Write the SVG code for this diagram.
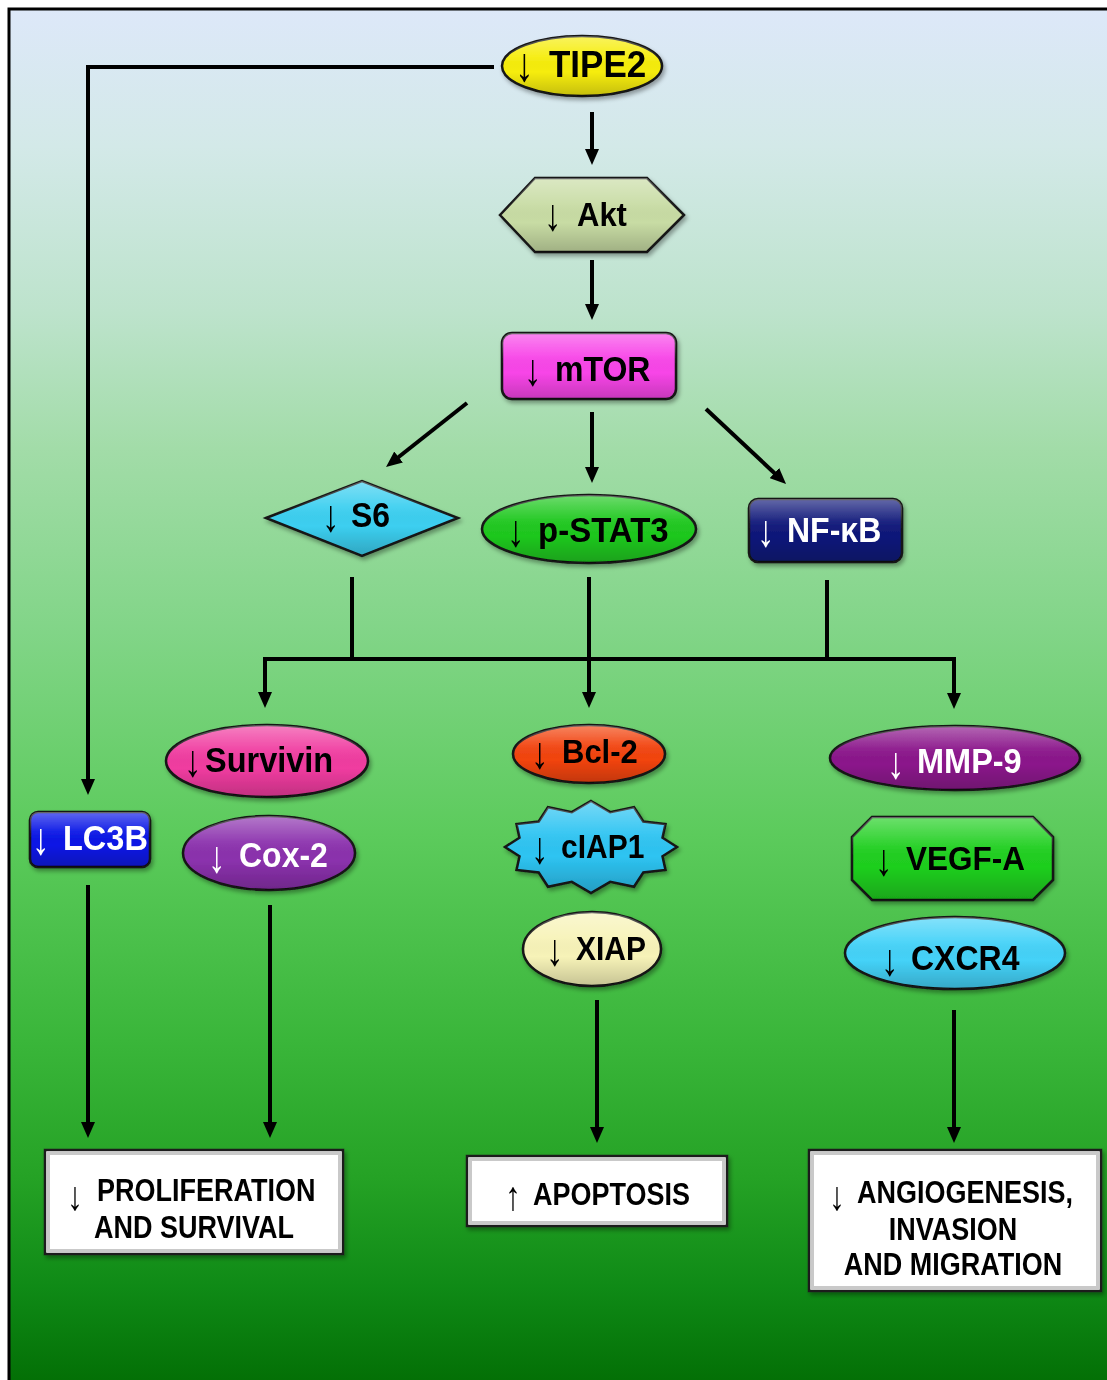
<svg xmlns="http://www.w3.org/2000/svg" width="1107" height="1380" viewBox="0 0 1107 1380">
<defs>
<linearGradient id="bg" x1="0" y1="0" x2="0" y2="1">
<stop offset="0" stop-color="#dde8f9"/>
<stop offset="0.1" stop-color="#d3e9e8"/>
<stop offset="0.22" stop-color="#bde3cc"/>
<stop offset="0.32" stop-color="#a2dca8"/>
<stop offset="0.45" stop-color="#82d588"/>
<stop offset="0.6" stop-color="#5ccb5c"/>
<stop offset="0.75" stop-color="#3ab63a"/>
<stop offset="0.85" stop-color="#25a225"/>
<stop offset="0.93" stop-color="#0f8a16"/>
<stop offset="1" stop-color="#036f05"/>
</linearGradient>
<linearGradient id="gloss" x1="0" y1="0" x2="0" y2="1">
<stop offset="0" stop-color="#fff" stop-opacity="0.35"/>
<stop offset="0.35" stop-color="#fff" stop-opacity="0.06"/>
<stop offset="0.6" stop-color="#000" stop-opacity="0"/>
<stop offset="1" stop-color="#000" stop-opacity="0.2"/>
</linearGradient>
<filter id="sh" x="-10%" y="-10%" width="130%" height="140%">
<feDropShadow dx="2" dy="3" stdDeviation="2" flood-color="#000" flood-opacity="0.35"/>
</filter>
<marker id="ah" viewBox="0 0 16 14" refX="8" refY="7" markerWidth="16" markerHeight="14" markerUnits="userSpaceOnUse" orient="auto">
<path d="M0,0 L16,7 L0,14 z" fill="#000"/>
</marker>
</defs>
<style>
.s{stroke:#151515;stroke-width:2.5}
.gl{fill:url(#gloss);stroke:none}
.t{font-family:"Liberation Sans",Arial,sans-serif;font-weight:bold;font-size:32px;fill:#000}
.ar{font-family:"Liberation Sans",Arial,sans-serif;font-weight:normal;font-size:32px;fill:#000}
.w{fill:#fff}
.bx{fill:#fff;stroke:#1a1a1a;stroke-width:2.5}
.bi{fill:none;stroke:#c9c9c9;stroke-width:3}
.bt{font-family:"Liberation Sans",Arial,sans-serif;font-weight:bold;font-size:27px;fill:#000}
.ba{font-family:"Liberation Sans",Arial,sans-serif;font-weight:normal;font-size:29px;fill:#000}
.c{fill:none;stroke:#000;stroke-width:4;stroke-linejoin:miter}
.a{marker-end:url(#ah)}
</style>

<rect x="0" y="0" width="1107" height="1380" fill="#fff"/>
<rect x="9" y="9" width="1100" height="1375" fill="url(#bg)"/>
<path d="M9,1380 V9 H1107" fill="none" stroke="#000" stroke-width="3"/>

<g id="connectors">
<path class="c a" d="M494,67 H88 V787"/>
<path class="c a" d="M592,112 V157"/>
<path class="c a" d="M592,260 V312"/>
<path class="c a" d="M467,403 L392.3,462"/>
<path class="c a" d="M592,412 V475"/>
<path class="c a" d="M706,409 L780.2,478.5"/>
<path class="c" d="M352,577 V659"/>
<path class="c" d="M827,580 V659"/>
<path class="c" d="M265,659 H954"/>
<path class="c a" d="M265,657 V700"/>
<path class="c a" d="M589,577 V700"/>
<path class="c a" d="M954,657 V701"/>
<path class="c a" d="M88,885 V1130"/>
<path class="c a" d="M270,905 V1130"/>
<path class="c a" d="M597,1000 V1135"/>
<path class="c a" d="M954,1010 V1135"/>
</g>

<g id="TIPE2" filter="url(#sh)">
<ellipse class="s" cx="582" cy="66" rx="80" ry="30" fill="#f6ed0a"/>
<ellipse class="gl" cx="582" cy="66" rx="80" ry="30"/>
<text class="ar" style="font-size:34px" transform="translate(515,81) scale(1.1,1.4)">↓</text>
<text class="t" style="font-size:35px" transform="translate(549,77) scale(1,1.08)">TIPE2</text>
</g>

<g id="Akt" filter="url(#sh)">
<polygon class="s" points="500,215 535,178 647,178 684,215 647,252 535,252" fill="#c8dca4"/>
<polygon class="gl" points="500,215 535,178 647,178 684,215 647,252 535,252"/>
<text class="ar" transform="translate(544,230) scale(1.1,1.4)">↓</text>
<text class="t" style="font-size:31px" transform="translate(577,226) scale(1,1.08)">Akt</text>
</g>

<g id="mTOR" filter="url(#sh)">
<rect class="s" x="502" y="333" width="174" height="66" rx="10" fill="#f845e8"/>
<rect class="gl" x="502" y="333" width="174" height="66" rx="10"/>
<text class="ar" transform="translate(524,385) scale(1.1,1.4)">↓</text>
<text class="t" transform="translate(555,381) scale(1,1.08)">mTOR</text>
</g>

<g id="S6" filter="url(#sh)">
<polygon class="s" points="266,518 362,481 458,518 362,556" fill="#3ccff0"/>
<polygon class="gl" points="266,518 362,481 458,518 362,556"/>
<text class="ar" transform="translate(322,531) scale(1.1,1.4)">↓</text>
<text class="t" transform="translate(351,527) scale(1,1.08)">S6</text>
</g>

<g id="pSTAT3" filter="url(#sh)">
<ellipse class="s" cx="589" cy="529" rx="107" ry="34" fill="#1fc81f"/>
<ellipse class="gl" cx="589" cy="529" rx="107" ry="34"/>
<text class="ar" transform="translate(507,546) scale(1.1,1.4)">↓</text>
<text class="t" style="font-size:33px" transform="translate(538,542) scale(1,1.08)">p-STAT3</text>
</g>

<g id="NFkB" filter="url(#sh)">
<rect class="s" x="749" y="499" width="153" height="63" rx="9" fill="#10187a"/>
<rect class="gl" x="749" y="499" width="153" height="63" rx="9"/>
<text class="ar w" transform="translate(757,546) scale(1.1,1.4)">↓</text>
<text class="t w" transform="translate(787,542) scale(1,1.08)">NF-κB</text>
</g>

<g id="Survivin" filter="url(#sh)">
<ellipse class="s" cx="267" cy="761" rx="101" ry="36" fill="#f03ca0"/>
<ellipse class="gl" cx="267" cy="761" rx="101" ry="36"/>
<text class="ar" transform="translate(184,776) scale(1.1,1.4)">↓</text>
<text class="t" style="font-size:32.5px" transform="translate(205,772) scale(1,1.08)">Survivin</text>
</g>

<g id="Cox2" filter="url(#sh)">
<ellipse class="s" cx="269" cy="853" rx="86" ry="37" fill="#8b31ad"/>
<ellipse class="gl" cx="269" cy="853" rx="86" ry="37"/>
<text class="ar w" transform="translate(208,872) scale(1.1,1.4)">↓</text>
<text class="t w" transform="translate(239,867) scale(1,1.08)">Cox-2</text>
</g>

<g id="LC3B" filter="url(#sh)">
<rect class="s" x="30" y="812" width="120" height="55" rx="8" fill="#0a16e6"/>
<rect class="gl" x="30" y="812" width="120" height="55" rx="8"/>
<text class="ar w" transform="translate(32,854) scale(1.1,1.4)">↓</text>
<text class="t w" style="font-size:32.5px" transform="translate(63,850) scale(1,1.08)">LC3B</text>
</g>

<g id="Bcl2" filter="url(#sh)">
<ellipse class="s" cx="589" cy="754" rx="76" ry="29" fill="#f2440f"/>
<ellipse class="gl" cx="589" cy="754" rx="76" ry="29"/>
<text class="ar" transform="translate(531,768) scale(1.1,1.4)">↓</text>
<text class="t" style="font-size:31px" transform="translate(562,763) scale(1,1.08)">Bcl-2</text>
</g>

<g id="cIAP1" filter="url(#sh)">
<polygon class="s" fill="#2ec4f2" points="591,801 610.2,812.2 634,807.2 643.3,821.5 665.5,824 662.5,837.7 677,847 662.5,856.3 665.5,870 643.3,872.5 634,886.8 610.2,881.8 591,893 571.8,881.8 548,886.8 538.7,872.5 516.5,870 519.5,856.3 505,847 519.5,837.7 516.5,824 538.7,821.5 548,807.2 571.8,812.2"/>
<polygon class="gl" points="591,801 610.2,812.2 634,807.2 643.3,821.5 665.5,824 662.5,837.7 677,847 662.5,856.3 665.5,870 643.3,872.5 634,886.8 610.2,881.8 591,893 571.8,881.8 548,886.8 538.7,872.5 516.5,870 519.5,856.3 505,847 519.5,837.7 516.5,824 538.7,821.5 548,807.2 571.8,812.2"/>
<text class="ar" transform="translate(531,863) scale(1.1,1.4)">↓</text>
<text class="t" style="font-size:30px" transform="translate(561,858) scale(1,1.08)">cIAP1</text>
</g>

<g id="XIAP" filter="url(#sh)">
<ellipse class="s" cx="592" cy="949" rx="69" ry="37" fill="#f7f3b8"/>
<ellipse class="gl" cx="592" cy="949" rx="69" ry="37"/>
<text class="ar" transform="translate(546,965) scale(1.1,1.4)">↓</text>
<text class="t" style="font-size:30px" transform="translate(576,960) scale(1,1.08)">XIAP</text>
</g>

<g id="MMP9" filter="url(#sh)">
<ellipse class="s" cx="955" cy="758" rx="125" ry="32" fill="#8b168b"/>
<ellipse class="gl" cx="955" cy="758" rx="125" ry="32"/>
<text class="ar w" transform="translate(887,778) scale(1.1,1.4)">↓</text>
<text class="t w" style="font-size:32.5px" transform="translate(917,773) scale(1,1.08)">MMP-9</text>
</g>

<g id="VEGFA" filter="url(#sh)">
<polygon class="s" points="872,817 1033,817 1053,837 1053,880 1033,900 872,900 852,880 852,837" fill="#1fcf1f"/>
<polygon class="gl" points="872,817 1033,817 1053,837 1053,880 1033,900 872,900 852,880 852,837"/>
<text class="ar" transform="translate(875,875) scale(1.1,1.4)">↓</text>
<text class="t" style="font-size:31.5px" transform="translate(906,870) scale(1,1.08)">VEGF-A</text>
</g>

<g id="CXCR4" filter="url(#sh)">
<ellipse class="s" cx="955" cy="953" rx="110" ry="36" fill="#44d2f8"/>
<ellipse class="gl" cx="955" cy="953" rx="110" ry="36"/>
<text class="ar" transform="translate(881,975) scale(1.1,1.4)">↓</text>
<text class="t" transform="translate(911,970) scale(1,1.08)">CXCR4</text>
</g>

<g id="proliferation" filter="url(#sh)">
<rect class="bx" x="45" y="1150" width="298" height="104"/>
<rect class="bi" x="48.5" y="1153.5" width="291" height="97"/>
<text class="ba" transform="translate(67,1210) scale(1.1,1.4)">↓</text>
<text class="bt" transform="translate(97,1201) scale(1,1.18)">PROLIFERATION</text>
<text class="bt" text-anchor="middle" transform="translate(194,1238) scale(1,1.18)">AND SURVIVAL</text>
</g>

<g id="apoptosis" filter="url(#sh)">
<rect class="bx" x="467" y="1156" width="260" height="70"/>
<rect class="bi" x="470.5" y="1159.5" width="253" height="63"/>
<text class="ba" transform="translate(505,1210) scale(1.1,1.4)">↑</text>
<text class="bt" transform="translate(533,1205) scale(1,1.18)">APOPTOSIS</text>
</g>

<g id="angiogenesis" filter="url(#sh)">
<rect class="bx" x="809" y="1150" width="292" height="141"/>
<rect class="bi" x="812.5" y="1153.5" width="285" height="134"/>
<text class="ba" transform="translate(829,1210) scale(1.1,1.4)">↓</text>
<text class="bt" transform="translate(857,1203) scale(1,1.18)">ANGIOGENESIS,</text>
<text class="bt" text-anchor="middle" transform="translate(953,1240) scale(1,1.18)">INVASION</text>
<text class="bt" text-anchor="middle" transform="translate(953,1275) scale(1,1.18)">AND MIGRATION</text>
</g>
</svg>
